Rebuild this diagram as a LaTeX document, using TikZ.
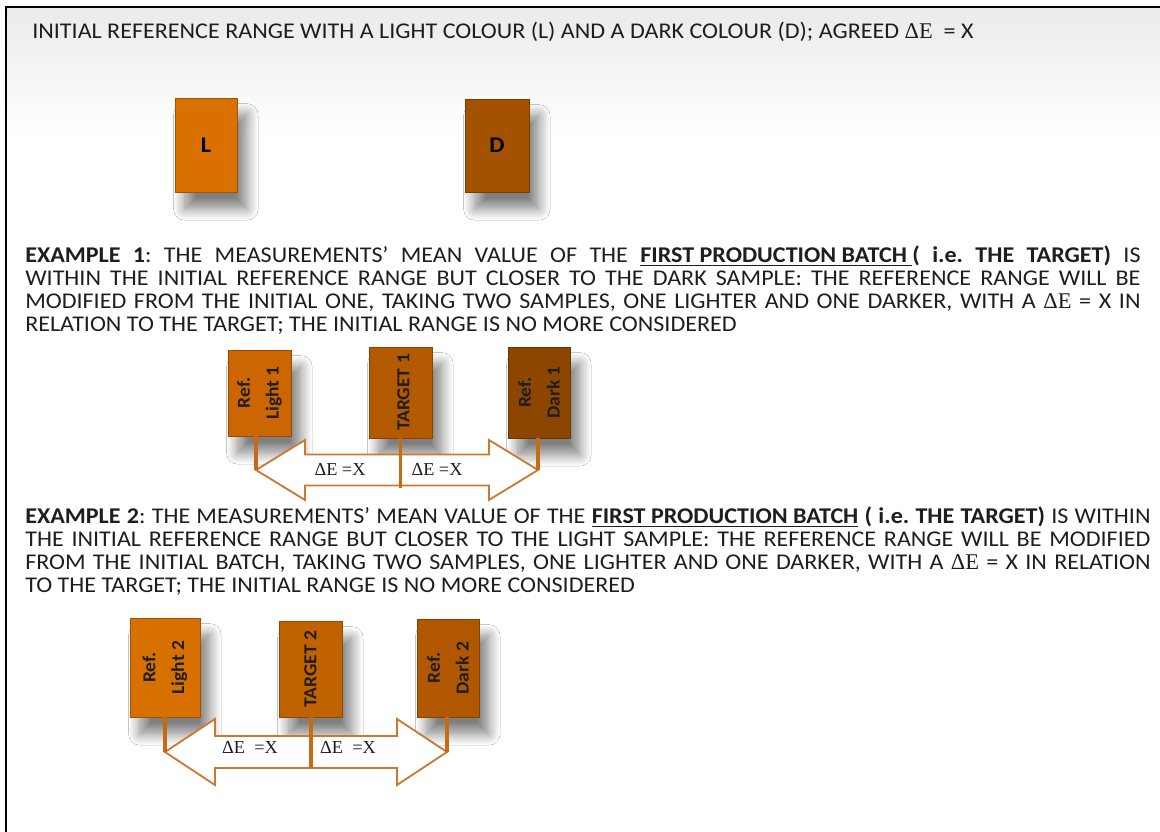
\documentclass[tikz,border=0pt]{standalone}
\usepackage{fontspec}
\setmainfont{Carlito}[FakeStretch=1.07]
\newfontfamily\deltafont{Liberation Serif}
\usetikzlibrary{calc,shadows.blur}
\frenchspacing

\definecolor{lightc}{HTML}{D97000}
\definecolor{darkc}{HTML}{A35200}
\definecolor{lightonec}{HTML}{CC6600}
\definecolor{targetonec}{HTML}{B35A00}
\definecolor{darkonec}{HTML}{8C4600}
\definecolor{lighttwoc}{HTML}{D87000}
\definecolor{targettwoc}{HTML}{C06200}
\definecolor{darktwoc}{HTML}{B05700}
\definecolor{arrowc}{HTML}{C87A35}
\definecolor{stemc}{HTML}{C96A12}
\definecolor{textc}{HTML}{1E1E1E}

\tikzset{
  sample/.style={draw=#1!75!black, fill=#1, line width=0.5pt, inner sep=0pt,
    font=\fontsize{16}{18}\selectfont\bfseries,
    blur shadow={shadow xshift=7pt, shadow yshift=-12pt, shadow blur radius=8pt,
      shadow blur steps=16, shadow opacity=50}},
  vlabel/.style={rotate=90, align=center, inner sep=0pt, text=textc,
    font=\fontsize{13}{20.5}\selectfont\bfseries},
  para/.style={align=justify, inner sep=0pt, anchor=north west, text=textc,
    font=\fontsize{16}{16.36}\selectfont},
  stem/.style={draw=stemc, line width=2.8pt},
  rangearrow/.style={draw=arrowc, fill=white, line width=1.3pt, line join=miter},
  rangelabel/.style={inner sep=0pt, text=textc, font=\deltafont\fontsize{13}{14}\selectfont},
  frame/.style={draw=black, line width=1.5pt}
}

\begin{document}
\begin{tikzpicture}[x=0.025cm,y=-0.025cm]
\useasboundingbox (0,0) rectangle (1160,832);
\fill[white] (0,0) rectangle (1160,832);
\shade[top color=gray!16, bottom color=white] (7,8) rectangle (1160,135);
\draw[frame] (6,832) -- (6,7) -- (1160,7);

% initial range
\node[para, anchor=west] (head) at (32,32) {INITIAL REFERENCE RANGE WITH A LIGHT COLOUR (L) AND A DARK COLOUR (D); AGREED {\deltafont ΔE}~ = X};
\node[sample=lightc, minimum width=1.55cm, minimum height=2.35cm] (boxL) at (206,145) {L};
\node[sample=darkc, minimum width=1.6cm, minimum height=2.325cm] (boxD) at (497,145.5) {D};

% example 1
\node[para, text width=27.875cm] (ex1) at (25,246) {\textbf{EXAMPLE 1}: THE MEASUREMENTS’ MEAN VALUE OF THE \textbf{\underline{FIRST PRODUCTION BATCH\ }( i.e. THE TARGET)} IS\linebreak
WITHIN THE INITIAL REFERENCE RANGE BUT CLOSER TO THE DARK SAMPLE: THE REFERENCE RANGE WILL BE\linebreak
MODIFIED FROM THE INITIAL ONE, TAKING TWO SAMPLES, ONE LIGHTER AND ONE DARKER, WITH A {\deltafont ΔE} = X IN\linebreak
RELATION TO THE TARGET; THE INITIAL RANGE IS NO MORE CONSIDERED};

\node[sample=lightonec, minimum width=1.575cm, minimum height=2.15cm] (light1) at (259.5,393) {};
\node[sample=targetonec, minimum width=1.575cm, minimum height=2.275cm] (target1) at (400.5,392.5) {};
\node[sample=darkonec, minimum width=1.55cm, minimum height=2.275cm] (dark1) at (539,392.5) {};
\node[vlabel] (light1txt) at (light1.center) {Ref.\\Light 1};
\node[vlabel] (target1txt) at ($(target1.center)+(3,0)$) {TARGET 1};
\node[vlabel] (dark1txt) at (dark1.center) {Ref.\\Dark 1};

\coordinate (l1end) at (256,470);
\coordinate (t1end) at (400.5,488);
\coordinate (d1end) at (538,470);
\draw[rangearrow] (l1end) -- ++(49,-30) -- ++(0,14.5) -- ($(d1end)+(-49,-15.5)$) -- ++(0,-14.5) -- (d1end)
  -- ++(-49,30) -- ++(0,-14.5) -- ($(l1end)+(49,15.5)$) -- ++(0,14.5) -- cycle;
\draw[stem] (light1.south -| l1end) -- (l1end);
\draw[stem] (target1.south) -- (t1end);
\draw[stem] (dark1.south -| d1end) -- (d1end);
\node[rangelabel] (dl1) at (340,469) {ΔE =X};
\node[rangelabel] (dr1) at (437,469) {ΔE =X};

% example 2
\node[para, text width=28.125cm] (ex2) at (25,507) {\textbf{EXAMPLE 2}: THE MEASUREMENTS’ MEAN VALUE OF THE \textbf{\underline{FIRST PRODUCTION BATCH} ( i.e. THE TARGET)} IS WITHIN\linebreak
THE INITIAL REFERENCE RANGE BUT CLOSER TO THE LIGHT SAMPLE: THE REFERENCE RANGE WILL BE MODIFIED\linebreak
FROM THE INITIAL BATCH, TAKING TWO SAMPLES, ONE LIGHTER AND ONE DARKER, WITH A {\deltafont ΔE} = X IN RELATION\linebreak
TO THE TARGET; THE INITIAL RANGE IS NO MORE CONSIDERED};

\node[sample=lighttwoc, minimum width=1.75cm, minimum height=2.475cm] (light2) at (165,667.5) {};
\node[sample=targettwoc, minimum width=1.575cm, minimum height=2.4cm] (target2) at (310.5,669) {};
\node[sample=darktwoc, minimum width=1.55cm, minimum height=2.45cm] (dark2) at (448,668) {};
\node[vlabel] (light2txt) at (light2.center) {Ref.\\Light 2};
\node[vlabel] (target2txt) at (target2.center) {TARGET 2};
\node[vlabel] (dark2txt) at (dark2.center) {Ref.\\Dark 2};

\coordinate (l2end) at (165,752);
\coordinate (t2end) at (311,768);
\coordinate (d2end) at (447,752);
\draw[rangearrow] (l2end) -- ++(50,-33) -- ++(0,17) -- ($(d2end)+(-50,-16)$) -- ++(0,-17) -- (d2end)
  -- ++(-50,33) -- ++(0,-17) -- ($(l2end)+(50,16)$) -- ++(0,17) -- cycle;
\draw[stem] (light2.south -| l2end) -- (l2end);
\draw[stem] (target2.south -| t2end) -- (t2end);
\draw[stem] (dark2.south -| d2end) -- (d2end);
\node[rangelabel] (dl2) at (250,747) {ΔE~ =X};
\node[rangelabel] (dr2) at (348,747) {ΔE~ =X};
\end{tikzpicture}
\end{document}
